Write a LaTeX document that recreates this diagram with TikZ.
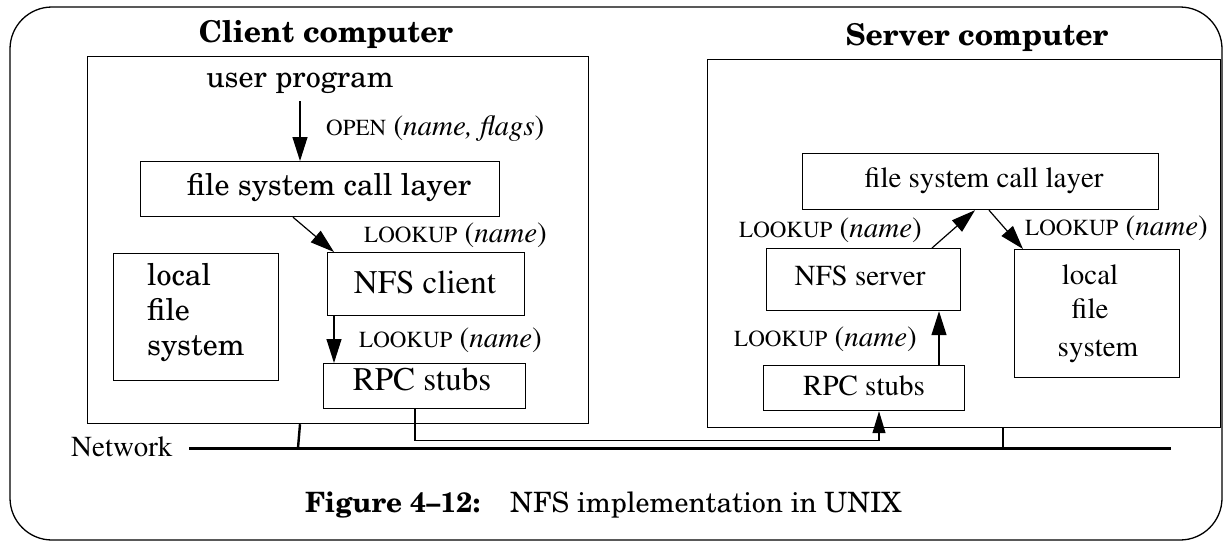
\documentclass[tikz,border=0pt]{standalone}
\usepackage[T1]{fontenc}
\usetikzlibrary{arrows.meta,calc}
\newcommand\schf[1]{\fontfamily{pnc}\fontsize{#1}{#1}\selectfont}
\newcommand\tmsf[1]{\fontfamily{ptm}\fontsize{#1}{#1}\selectfont}
\newcommand\lk[1]{{\fontsize{23}{23}\selectfont #1}}
\begin{document}
\begin{tikzpicture}[x=1pt,y=-1pt,
  box/.style={draw, line width=1.2pt, inner sep=0pt, anchor=north west},
  conn/.style={line width=1.2pt, -{Triangle[length=24pt,width=15pt]}},
  conn2/.style={line width=1.2pt, -{Triangle[length=22pt,width=13pt]}},
  lbl/.style={anchor=base west, inner sep=0pt, font=\tmsf{29}},
  txt/.style={anchor=base, inner sep=0pt},
  net/.style={line width=3pt},
  drop/.style={line width=2.4pt}]
\useasboundingbox (0,0) rectangle (1223,542);
\draw[line width=1.3pt, rounded corners=42pt] (10,7) rectangle (1222,540);

% titles
\node[txt, font=\schf{30}\bfseries] (ctitle) at (326,42) {Client computer};
\node[txt, font=\schf{30}\bfseries] (stitle) at (977,45) {Server computer};

% client
\node[box, minimum width=501pt, minimum height=367pt] (cbox) at (87,56) {};
\node[txt, font=\schf{30}] (user) at (300,87) {user program};
\node[box, minimum width=359pt, minimum height=55pt] (fscl1) at (140,161) {};
\node[txt, font=\schf{30}] (fscl1t) at (329,195) {file system call layer};
\node[box, minimum width=165pt, minimum height=127pt] (lfs1) at (113,253) {};
\node[anchor=base west, inner sep=0pt, font=\schf{30}] (lfs1a) at (147,285) {local};
\node[anchor=base west, inner sep=0pt, font=\schf{30}] (lfs1b) at (147,320) {file};
\node[anchor=base west, inner sep=0pt, font=\schf{30}] (lfs1c) at (147,355) {system};
\node[box, minimum width=197pt, minimum height=63pt] (nfsc) at (327,252) {};
\node[txt, font=\tmsf{33}] (nfsct) at (425,293) {NFS client};
\node[box, minimum width=202pt, minimum height=45pt] (rpc1) at (323,363) {};
\node[txt, font=\tmsf{33}] (rpc1t) at (422,390) {RPC stubs};

\node[lbl] (l0) at (326,135) {\lk{OPEN} (\textit{name, flags})};
\node[lbl] (l1) at (364,242) {\lk{LOOKUP} (\textit{name})};
\node[lbl] (l2) at (359,347) {\lk{LOOKUP} (\textit{name})};

\draw[conn] (user.south) ++(0,8) coordinate (u0) -- (u0 |- fscl1.north);
\draw[conn] ($(fscl1.south west)+(153,0)$) -- ($(nfsc.north west)+(7,0)$);
\draw[conn] ($(nfsc.south west)+(7,0)$) -- ($(rpc1.north west)+(11,0)$);

% server
\node[box, minimum width=513pt, minimum height=368pt] (sbox) at (707,59) {};
\node[box, minimum width=356pt, minimum height=56pt] (fscl2) at (802,153) {};
\node[txt, font=\tmsf{29}] (fscl2t) at (984,187) {file system call layer};
\node[box, minimum width=194pt, minimum height=62pt] (nfss) at (766,248) {};
\node[txt, font=\tmsf{29}] (nfsst) at (860,285) {NFS server};
\node[box, minimum width=165pt, minimum height=128pt] (lfs2) at (1014,249) {};
\node[txt, font=\tmsf{29}] (lfs2a) at (1090,284) {local};
\node[txt, font=\tmsf{29}] (lfs2b) at (1090,318) {file};
\node[txt, font=\tmsf{29}] (lfs2c) at (1098,356) {system};
\node[box, minimum width=201pt, minimum height=45pt] (rpc2) at (763,365) {};
\node[txt, font=\tmsf{29}] (rpc2t) at (864,395) {RPC stubs};

\node[lbl] (l3) at (739,237) {\lk{LOOKUP} (\textit{name})};
\node[lbl] (l4) at (1025,235) {\lk{LOOKUP} (\textit{name})};
\node[lbl] (l5) at (734,346) {\lk{LOOKUP} (\textit{name})};

\draw[conn] ($(rpc2.north west)+(176,0)$) -- ($(nfss.south west)+(173,0)$);
\draw[conn] ($(nfss.north west)+(166,0)$) -- ($(fscl2.south west)+(173,0)$);
\draw[conn] ($(fscl2.south west)+(187,0)$) -- ($(lfs2.north west)+(9,0)$);

% network
\node[anchor=base west, inner sep=0pt, font=\tmsf{29}] (nettext) at (71,456) {Network};
\coordinate (netL) at (189,448);
\coordinate (netR) at (1171,448);
\draw[net] (netL) -- (netR);
\draw[drop] ($(cbox.south west)+(213,0)$) -- ($(netL)+(109,0)$);
\draw[drop] ($(sbox.south west)+(296,0)$) -- ($(netL)+(814,0)$);
\draw[conn2] ($(rpc1.south west)+(92,0)$) -- ++(0,31) -| ($(rpc2.south west)+(116,0)$);

% caption
\node[anchor=base west, inner sep=0pt, font=\schf{28}] (cap) at (305,512) {\textbf{Figure 4--12:}\hspace{30pt}NFS implementation in UNIX};
\end{tikzpicture}
\end{document}
